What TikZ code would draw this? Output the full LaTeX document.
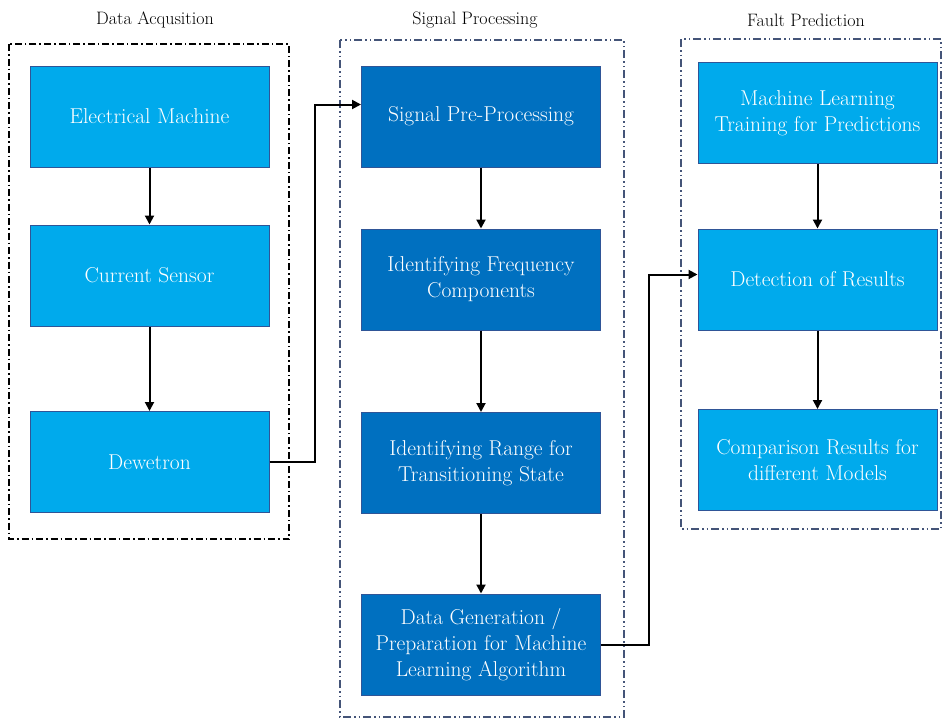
\documentclass[tikz,border=0pt]{standalone}
\usepackage{fontspec}
\usetikzlibrary{arrows.meta,calc}
\definecolor{lightbox}{RGB}{0,170,236}
\definecolor{darkbox}{RGB}{0,112,192}
\definecolor{boxedge}{RGB}{47,85,151}
\definecolor{frameblue}{RGB}{68,84,120}
\tikzset{
  block/.style={draw=boxedge, line width=1pt, text=white, align=center,
    minimum width=239pt, minimum height=101pt, inner sep=2pt,
    font=\fontsize{21.5}{26}\selectfont},
  lightblock/.style={block, fill=lightbox},
  darkblock/.style={block, fill=darkbox},
  frameA/.style={draw=black, line width=1.4pt,
    dash pattern=on 7pt off 3pt on 1.5pt off 3pt},
  frameB/.style={draw=frameblue, line width=1.3pt,
    dash pattern=on 8pt off 3pt on 1.5pt off 3pt on 1.5pt off 3pt},
  flow/.style={line width=2pt, -{Triangle[length=9pt,width=9pt]}},
  title/.style={font=\fontsize{18}{20}\selectfont, text=black}
}
\begin{document}
\begin{tikzpicture}[x=1pt,y=-1pt]
\useasboundingbox (0,0) rectangle (942,720);
\fill[white] (0,0) rectangle (942,720);

% group frames
\draw[frameA] (9,44) rectangle (289,539);
\draw[frameB] (340,40) rectangle (624,717);
\draw[frameB] (681,39) rectangle (941,529);

% group titles
\node[title] (t1) at (155,20) {Data Acqusition};
\node[title] (t2) at (475,20) {Signal Processing};
\node[title] (t3) at (806,20) {Fault Prediction};

% data acquisition
\node[lightblock] (em) at (149.5,116.5) {Electrical Machine};
\node[lightblock] (cs) at (149.5,275.5) {Current Sensor};
\node[lightblock] (dw) at (149.5,462) {Dewetron};

% signal processing
\node[darkblock] (sp) at (481,116.5) {Signal Pre-Processing};
\node[darkblock] (fc) at (481,279.5) {Identifying Frequency\\Components};
\node[darkblock] (rs) at (481,463) {Identifying Range for\\Transitioning State};
\node[darkblock] (dg) at (481,644.5) {Data Generation /\\Preparation for Machine\\Learning Algorithm};

% fault prediction
\node[lightblock] (ml) at (817.5,113) {Machine Learning\\Training for Predictions};
\node[lightblock] (dr) at (817.5,279.5) {Detection of Results};
\node[lightblock] (cr) at (817.5,460) {Comparison Results for\\different Models};

% connectors
\draw[flow] (em) -- (cs);
\draw[flow] (cs) -- (dw);
\draw[flow] (sp) -- (fc);
\draw[flow] (fc) -- (rs);
\draw[flow] (rs) -- (dg);
\draw[flow] (ml) -- (dr);
\draw[flow] (dr) -- (cr);

\coordinate (k1) at (315,0);
\coordinate (k2) at (649,0);
\coordinate (in1) at ($(sp.west)+(0,-12)$);
\coordinate (in2) at ($(dr.west)+(0,-5)$);
\draw[flow] (dw.east) -- (dw.east -| k1) -- (in1 -| k1) -- (in1);
\draw[flow] (dg.east) -- (dg.east -| k2) -- (in2 -| k2) -- (in2);
\end{tikzpicture}
\end{document}
